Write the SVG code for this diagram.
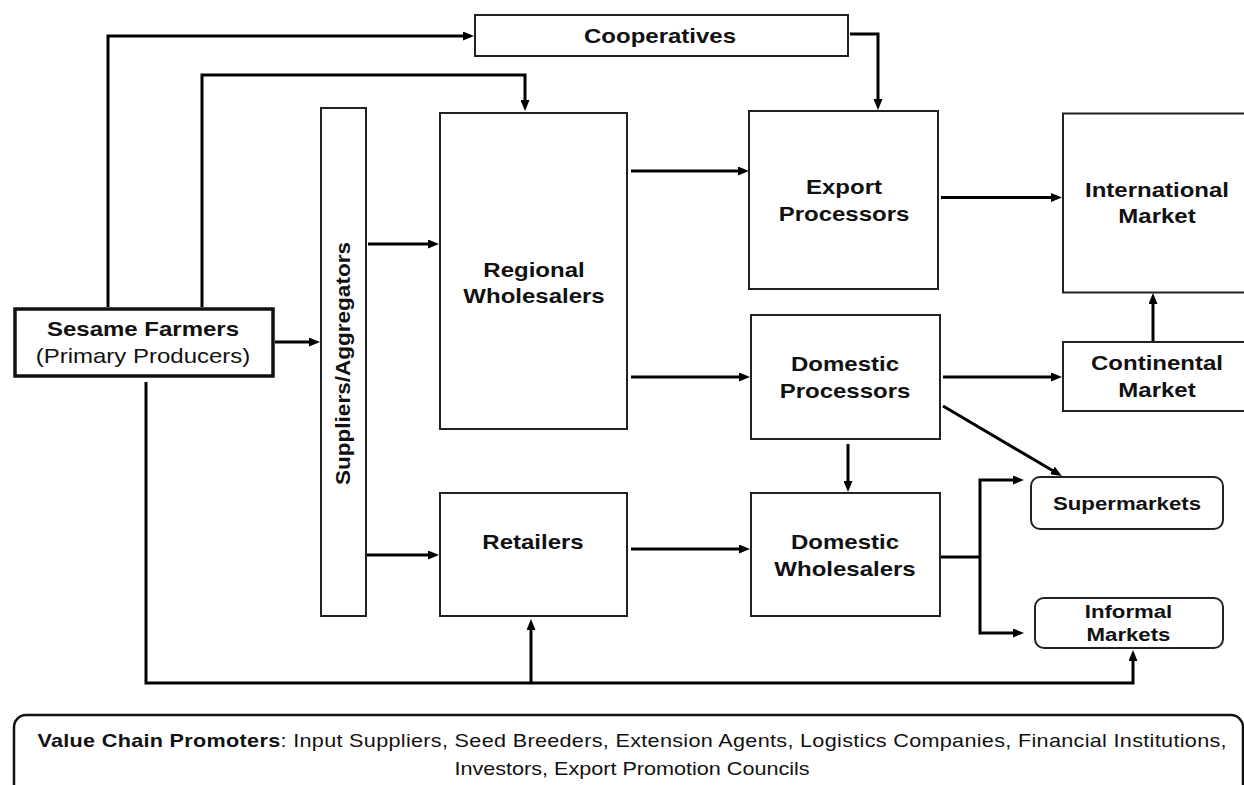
<svg xmlns="http://www.w3.org/2000/svg" width="1244" height="785" viewBox="0 0 1244 785">
<style>
.box{fill:#fff;stroke:#222;stroke-width:2}
.farm{fill:#fff;stroke:#111;stroke-width:3.5}
.rbox{fill:#fff;stroke:#222;stroke-width:2}
.t{font-family:"Liberation Sans",Arial,sans-serif;font-size:20px;font-weight:bold;fill:#111;text-anchor:middle}
.ts{font-family:"Liberation Sans",Arial,sans-serif;font-size:18.5px;font-weight:bold;fill:#111;text-anchor:middle}
.tr{font-family:"Liberation Sans",Arial,sans-serif;font-size:20px;font-weight:normal;fill:#111;text-anchor:middle}
.tb{font-family:"Liberation Sans",Arial,sans-serif;font-size:18px;fill:#111;text-anchor:middle}
.c{fill:none;stroke:#000;stroke-width:3;marker-end:url(#ah)}
.cn{fill:none;stroke:#000;stroke-width:3}
</style>
<defs>
<marker id="ah" markerUnits="userSpaceOnUse" markerWidth="11" markerHeight="9" refX="3" refY="4.5" orient="auto">
<path d="M0,0 L11,4.5 L0,9 z" fill="#000"/>
</marker>
</defs>
<rect width="1244" height="785" fill="#fff"/>

<g id="connectors">
<path class="c" d="M108,307 V36 H466"/>
<path class="c" d="M202,307 V75 H525 V103"/>
<path class="c" d="M275,342 H312"/>
<path class="c" d="M368,244 H431"/>
<path class="c" d="M366,555 H431"/>
<path class="c" d="M146,382 V683 H1133 V658"/>
<path class="c" d="M531,683 V627"/>
<path class="c" d="M850,34 H878 V102"/>
<path class="c" d="M631,171 H741"/>
<path class="c" d="M631,377 H742"/>
<path class="c" d="M941,197.5 H1054"/>
<path class="c" d="M943,377 H1054"/>
<path class="c" d="M1153,342 V301"/>
<path class="c" d="M943,406 L1055,472"/>
<path class="c" d="M848,444 V484"/>
<path class="c" d="M631,549 H742"/>
<path class="cn" d="M940,557 H980"/>
<path class="c" d="M980,557 V480 H1016"/>
<path class="c" d="M980,557 V633 H1016"/>
</g>

<g id="cooperatives">
<rect class="box" x="475" y="15" width="373" height="41"/>
<text class="t" x="0" y="43" transform="translate(660 0) scale(1.2 1)">Cooperatives</text>
</g>

<g id="suppliers">
<rect class="box" x="321" y="108" width="45" height="508"/>
<text class="t" x="0" y="0" textLength="243" lengthAdjust="spacingAndGlyphs" transform="translate(350 363.5) rotate(-90)">Suppliers/Aggregators</text>
</g>

<g id="regional-wholesalers">
<rect class="box" x="440" y="113" width="187" height="316"/>
<text class="t" x="0" y="277" transform="translate(534 0) scale(1.2 1)">Regional</text>
<text class="t" x="0" y="303" transform="translate(534 0) scale(1.2 1)">Wholesalers</text>
</g>

<g id="export-processors">
<rect class="box" x="749" y="111" width="189" height="178"/>
<text class="t" x="0" y="194" transform="translate(844 0) scale(1.2 1)">Export</text>
<text class="t" x="0" y="221" transform="translate(844 0) scale(1.2 1)">Processors</text>
</g>

<g id="international-market">
<rect class="box" x="1063" y="113.5" width="200" height="179"/>
<text class="t" x="0" y="197" transform="translate(1157 0) scale(1.2 1)">International</text>
<text class="t" x="0" y="223" transform="translate(1157 0) scale(1.2 1)">Market</text>
</g>

<g id="sesame-farmers">
<rect class="farm" x="15" y="309" width="258" height="67"/>
<text class="t" x="0" y="336" transform="translate(143 0) scale(1.2 1)">Sesame Farmers</text>
<text class="tr" x="0" y="363" transform="translate(143 0) scale(1.2 1)">(Primary Producers)</text>
</g>

<g id="domestic-processors">
<rect class="box" x="751" y="315" width="189" height="124"/>
<text class="t" x="0" y="371" transform="translate(845 0) scale(1.2 1)">Domestic</text>
<text class="t" x="0" y="398" transform="translate(845 0) scale(1.2 1)">Processors</text>
</g>

<g id="continental-market">
<rect class="box" x="1063" y="342" width="200" height="69"/>
<text class="t" x="0" y="370" transform="translate(1157 0) scale(1.2 1)">Continental</text>
<text class="t" x="0" y="397" transform="translate(1157 0) scale(1.2 1)">Market</text>
</g>

<g id="retailers">
<rect class="box" x="440" y="493" width="187" height="123"/>
<text class="t" x="0" y="549" transform="translate(533 0) scale(1.2 1)">Retailers</text>
</g>

<g id="domestic-wholesalers">
<rect class="box" x="751" y="493" width="189" height="123"/>
<text class="t" x="0" y="549" transform="translate(845 0) scale(1.2 1)">Domestic</text>
<text class="t" x="0" y="576" transform="translate(845 0) scale(1.2 1)">Wholesalers</text>
</g>

<g id="supermarkets">
<rect class="rbox" x="1031" y="477" width="192" height="52" rx="9"/>
<text class="ts" x="0" y="510" transform="translate(1127 0) scale(1.2 1)">Supermarkets</text>
</g>

<g id="informal-markets">
<rect class="rbox" x="1035" y="598" width="188" height="50" rx="9"/>
<text class="ts" x="0" y="618" transform="translate(1128.5 0) scale(1.2 1)">Informal</text>
<text class="ts" x="0" y="641.5" transform="translate(1128.5 0) scale(1.2 1)">Markets</text>
</g>

<g id="value-chain-promoters">
<rect x="14" y="715" width="1229" height="110" rx="12" fill="#fff" stroke="#111" stroke-width="2.5"/>
<text class="tb" x="0" y="747" textLength="991" lengthAdjust="spacing" transform="translate(632 0) scale(1.2 1)"><tspan font-weight="bold">Value Chain Promoters</tspan>: Input Suppliers, Seed Breeders, Extension Agents, Logistics Companies, Financial Institutions,</text>
<text class="tb" x="0" y="775" transform="translate(632 0) scale(1.2 1)">Investors, Export Promotion Councils</text>
</g>
</svg>
